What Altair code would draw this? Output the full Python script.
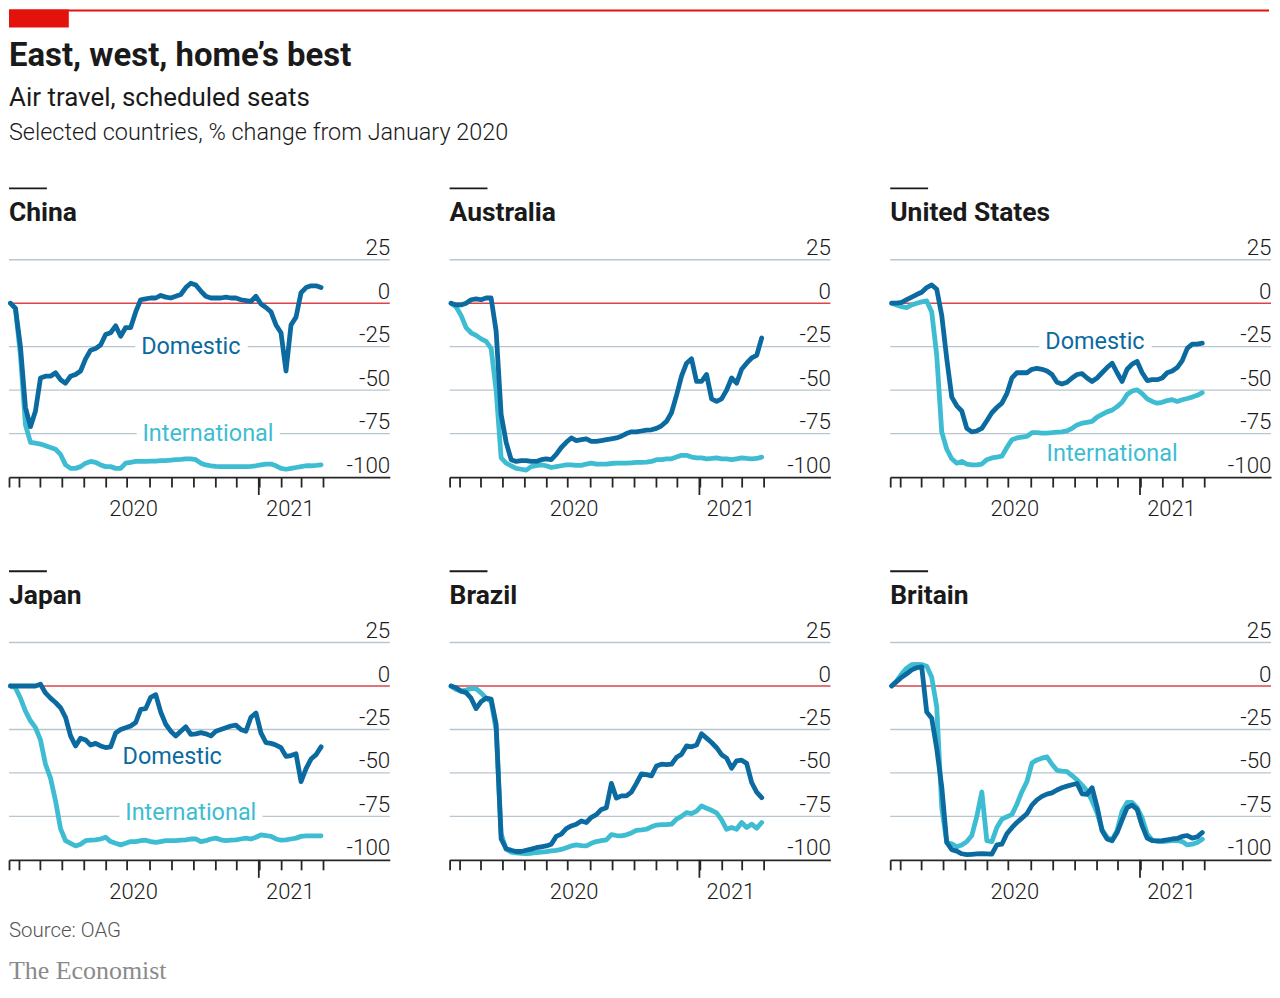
import altair as alt
import pandas as pd

# ---------------- data ----------------
WEEKS = pd.date_range("2020-01-20", periods=63, freq="7D").strftime("%Y-%m-%d").tolist()

china_dom = [0, -3, -25, -60, -71, -62, -43, -42, -42, -40, -44, -46, -42, -41,
             -39, -32, -27, -26, -24, -18, -17, -13, -19, -14, -14, -5, 2, 2.5, 3, 3,
             4.5, 3.5, 3, 4, 5, 9, 11.5, 10.5, 7, 4, 3, 3, 3, 3.5, 3, 3, 2, 1.5, 1, 4,
             -0.5, -2.5, -5, -12.5, -17, -39, -12.5, -8, 6, 9, 10, 10, 9]
china_int = [0, -3, -30, -70, -80, -80.5, -81, -82, -83, -84, -87, -93, -95, -95, -94,
             -92, -91, -91.5, -93, -94, -94, -95, -95, -92, -91.5,
             -91, -91, -91, -90.8, -90.8, -90.5, -90.5, -90.3, -90, -89.8,
             -89.5, -89.5, -90, -92, -93, -93.5, -93.8, -94, -94, -94, -94, -94, -94, -93.8, -93.5,
             -93, -92.5, -92.5, -93.5, -95, -95.5, -95, -94.5, -94, -93.5, -93.5, -93.3, -93]

aus_dom = [0, -1, -1, 0, 2, 2.5, 2, 3, 3,
           -16, -64, -80, -90, -91, -90.5, -90.5, -91, -91, -90, -89.5, -90,
           -87, -83, -80, -77.5, -79, -78.5, -78, -79.5, -79.5, -79, -78.5, -78, -77.5,
           -76.5, -75, -74, -74, -73.5, -73, -72.8, -72, -70.5, -68, -63,
           -53, -42, -34.5, -32, -45, -45, -41, -55, -56.5, -55, -50, -43, -46, -38, -34.5, -31.5, -30, -20]
aus_int = [0, -2, -7, -14, -17, -18.5, -20.5, -22, -26,
           -50, -89, -92, -93.5, -95, -95.5, -96, -94, -93.5, -93, -93.5, -94.5,
           -94, -93.5, -93, -93, -93.3, -93.3, -92.5, -92, -92.5, -92.5, -92.5, -92.2, -92,
           -92, -92, -91.8, -91.6, -91.5, -91.4, -91, -90, -90, -89.5, -89.5,
           -88.5, -87.5, -87.5, -88.5, -89, -89, -89.5, -89.3, -89, -89.5, -89.5, -90, -89.5, -89, -89.3, -89.5, -89.3, -88.5]

us_dom = [0, 0, 0.5, 2, 3.5, 5, 6.3, 9, 10.5, 8,
          -7, -32, -54, -59, -62, -72, -74, -73.5, -72, -67.6, -63, -60, -57.5,
          -52, -43, -40, -40, -40, -38, -37.5, -38, -39, -41, -45.5, -46.5, -45.5,
          -43, -41, -40.5, -43, -45, -43, -40, -37, -34.5, -40, -45, -38, -35, -33.5,
          -40, -44.5, -44, -44, -43, -40, -39, -37, -33, -26, -23.5, -23.5, -23]
us_int = [0, -1, -2, -2.5, -1, 0, 0.8, 1.3, -5, -30,
          -74, -84, -89.5, -92, -91, -92.5, -93, -93, -92.5, -90, -89, -88.5, -88,
          -83, -78.5, -77.5, -77, -76.6, -74.5, -74.5, -74.7, -74.7, -74.5, -74.2, -74, -73.4,
          -72, -70, -69, -68.5, -68, -65.5, -64, -62.5, -61.5, -59.5, -57, -52.5, -50.5, -49.8,
          -52, -55, -56.5, -57.5, -57, -56, -55.5, -56.5, -55.5, -54.8, -54, -53, -51.5]

japan_dom = [0, 0, 0, 0, 0, 0, 1, -4, -7, -9.5, -12.5, -18, -28.7, -34.5,
             -30, -31, -34, -33, -34.5, -35.4, -35, -27, -25, -24, -23, -21, -13.4, -13, -6.5, -5,
             -15, -22, -26, -28.7, -26, -23.5, -27.8, -27.5, -26.8, -27.5, -28.7, -26, -25, -24, -23, -22.5, -25, -26,
             -18, -15.5, -27, -32.6, -33, -34, -35.5, -40.5, -40, -39, -55, -47.5, -42, -39.5, -35]
japan_int = [0, -1, -7, -14.5, -20, -24, -31, -45, -53, -66, -82, -89, -90.5, -92, -91,
             -89, -88.7, -88.5, -88, -87, -89.5, -90.5, -91.4, -90.5, -89.5, -89.5, -89, -88.7, -89.5, -90,
             -89.5, -89, -89, -89, -88.7, -88.5, -88, -88, -89.5, -89, -88, -87.5, -88.5, -89, -88.7, -88.5,
             -88, -87.5, -88, -87, -85.6, -86, -86.5, -88, -88.7, -88.5, -88, -87.5, -86.5, -86.2, -86.2, -86.2, -86.2]

brazil_dom = [0, -1, -3, -3.8, -7, -13, -9, -7, -7.5, -22,
              -88, -93.5, -94.5, -95.2, -95.2, -94.5, -93.8, -93, -92.5, -92, -91, -86.5, -85.2,
              -82, -80.5, -79.5, -77.6, -78.5, -75.5, -74, -71, -70, -56, -64.5, -63.2, -63.2,
              -61, -56, -50.5, -51, -51.7, -46, -45, -45.2, -45, -41, -39.3, -34.5, -35, -34,
              -27.5, -30, -32.5, -35.5, -39.5, -41.5, -47.3, -43, -42.7, -44.5, -55.5, -61, -64.2]
brazil_int = [0, -2, -2.9, -2.3, -1.5, -1.5, -4, -7, -9, -25,
              -85, -94, -95.5, -96, -96.2, -96.4, -96.2, -95.8, -95.5, -95.2, -94.8, -94.5, -94,
              -93, -92, -91.4, -91.8, -92, -90.5, -89.5, -89, -88.5, -85.5, -86, -86.2, -85.6,
              -84.5, -83, -82.8, -82.4, -81, -80, -79.8, -79.7, -79.5, -76.6, -75, -72.8, -73.4, -72,
              -69, -70.3, -71.5, -73, -77, -82.4, -81.4, -82.4, -78.5, -81.4, -79.5, -81.8, -78.5]

britain_dom = [0, 2.5, 5, 7, 9.3, 10.5, 11, -15, -18.5, -36,
               -58, -90, -94.2, -95, -96.5, -97, -96.8, -96.6, -96.4, -96.5, -96.7, -91.4, -91,
               -85, -81.5, -78.5, -76, -73.5, -68.5, -65.5, -63.5, -62.2, -61.5, -59.8, -58.5, -57.6,
               -56.8, -56.1, -62, -62.3, -58.5, -69.5, -83.3, -88, -89, -84.3, -77, -70, -68.5, -71,
               -80.5, -87.5, -89, -89.1, -89, -88.5, -88, -87.7, -86.5, -86, -87.5, -86.8, -84.3]
britain_int = [0, 3, 7, 10.3, 12.3, 12.5, 12.3, 11.3, 5, -12,
               -70, -90, -90.8, -92.5, -91.5, -89.5, -86, -75, -61, -89, -89.5, -81.4, -76.6,
               -75.2, -74, -68, -60.8, -55, -44.3, -42.5, -41.5, -40.8, -45, -48.5, -49, -49.2,
               -51.5, -54, -57, -60.3, -66, -73, -82.5, -87, -88.5, -83, -72, -67, -67, -70,
               -76, -85, -88.7, -89.3, -89.5, -89.2, -89, -88.8, -89.5, -91.4, -91, -90, -88.1]

COUNTRIES = ["China", "Australia", "United States", "Japan", "Brazil", "Britain"]
DOMESTIC = [china_dom, aus_dom, us_dom, japan_dom, brazil_dom, britain_dom]
INTERNATIONAL = [china_int, aus_int, us_int, japan_int, brazil_int, britain_int]

# in-chart series labels
label_country = ["China", "China", "United States", "United States", "Japan", "Japan"]
label_series = ["Domestic", "International", "Domestic", "International", "Domestic", "International"]
label_date = ["2020-09-28", "2020-10-22", "2020-10-30", "2020-11-23", "2020-09-02", "2020-09-28"]
label_value = [-25, -75, -22.5, -87, -41, -73]

Y_TICKS = [25, 0, -25, -50, -75, -100]
GRID_VALUES = [25, -25, -50, -75]
TICK_MONTHS = [(2020, m) for m in range(2, 13)] + [(2021, m) for m in range(1, 5)]
YEAR_LABELS = ["2020", "2021"]
YEAR_LABEL_DATES = ["2020-07-10", "2021-02-14"]
LONG_TICK_DATE = ["2021-01-01"]

# ---------------- style ----------------
FONT = "Roboto"
DARK = "#0b6aa0"
LIGHT = "#3ebcd2"
RED = "#e3120b"
ZERO = "#db444b"
GRIDC = "#b7c6cf"
TXT = "#1a1a1a"
AXC = "#262626"
W, H = 382, 218
TOTAL_W = 1264

rows = []
for c, dom, intl in zip(COUNTRIES, DOMESTIC, INTERNATIONAL):
    for d, v in zip(WEEKS, dom):
        rows.append({"country": c, "series": "Domestic", "date": d, "value": v})
    for d, v in zip(WEEKS, intl):
        rows.append({"country": c, "series": "International", "date": d, "value": v})
df = pd.DataFrame(rows)
labels_df = pd.DataFrame({"country": label_country, "series": label_series,
                          "date": label_date, "value": label_value})

xscale = alt.Scale(domain=[alt.DateTime(year=2020, month=1, date=18, utc=True),
                           alt.DateTime(year=2021, month=7, date=3, utc=True)])
tick_values = [alt.DateTime(year=2020, month=1, date=18, utc=True)] + \
    [alt.DateTime(year=y, month=m, date=1, utc=True) for y, m in TICK_MONTHS]
xaxis = alt.Axis(values=tick_values, labels=False, tickSize=10, tickColor=AXC, tickWidth=1.8,
                 domainColor=AXC, domainWidth=1.8, grid=False)
yscale = alt.Scale(domain=[-100, 25], nice=False, zero=False)
yaxis = alt.Axis(orient="right", values=Y_TICKS, labelAlign="right", labelBaseline="alphabetic",
                 labelOffset=-5, labelPadding=0, ticks=False, tickSize=0, domain=False, grid=False,
                 labelFontSize=22.5, labelFont=FONT, labelColor=TXT, labelFontWeight=300,
                 labelFlush=False, labelOverlap=False,
                 labelExpr="datum.value < 0 ? '-' + abs(datum.value) : '' + datum.value")

X = alt.X("date:T", scale=xscale, axis=xaxis, title=None)
Y = alt.Y("value:Q", scale=yscale, axis=yaxis, title=None)

one = pd.DataFrame({"k": [0]})
series_color = alt.Color("series:N", scale=alt.Scale(domain=["Domestic", "International"],
                                                    range=[DARK, LIGHT]), legend=None)
no_frame = alt.ViewBackground(stroke="transparent", strokeWidth=0)


def panel(country, footer=False):
    d = df[df.country == country]
    lab = labels_df[labels_df.country == country]
    layers = [
        alt.Chart(pd.DataFrame({"value": GRID_VALUES})).mark_rule(color=GRIDC, strokeWidth=1.4).encode(y=Y),
        alt.Chart(pd.DataFrame({"value": [0]})).mark_rule(color=ZERO, strokeWidth=1.6).encode(y=Y),
    ]
    if len(lab):
        layers.append(alt.Chart(lab).mark_text(font=FONT, fontSize=23.5, align="center", baseline="middle",
                                               color="white", stroke="white", strokeWidth=16,
                                               strokeJoin="round").encode(x=X, y=Y, text="series:N"))
    layers += [
        alt.Chart(d[d.series == "International"]).mark_line(color=LIGHT, strokeWidth=4.8, strokeJoin="round",
                                                            strokeCap="round").encode(x=X, y=Y),
        alt.Chart(d[d.series == "Domestic"]).mark_line(color=DARK, strokeWidth=4.8, strokeJoin="round",
                                                       strokeCap="round").encode(x=X, y=Y),
    ]
    if len(lab):
        layers.append(alt.Chart(lab).mark_text(font=FONT, fontSize=23.5, align="center",
                                               baseline="middle").encode(x=X, y=Y, text="series:N",
                                                                         color=series_color))
    layers += [
        alt.Chart(pd.DataFrame({"date": LONG_TICK_DATE})).mark_rule(color=AXC, strokeWidth=1.8).encode(
            x=X, y=alt.value(H), y2=alt.value(H + 18)),
        alt.Chart(pd.DataFrame({"date": YEAR_LABEL_DATES, "label": YEAR_LABELS})).mark_text(
            font=FONT, fontSize=22, fontWeight=300, align="center", baseline="alphabetic", color=TXT).encode(
            x=X, y=alt.value(H + 39), text="label:N"),
        alt.Chart(one).mark_rule(color=TXT, strokeWidth=2).encode(
            x=alt.value(0), x2=alt.value(38), y=alt.value(-71.6)),
        alt.Chart(pd.DataFrame({"t": [country]})).mark_text(
            font=FONT, fontSize=26.5, fontWeight="bold", align="left", baseline="alphabetic", color=TXT).encode(
            x=alt.value(0), y=alt.value(-39), text="t:N"),
    ]
    if footer:
        layers += [
            alt.Chart(pd.DataFrame({"t": ["Source: OAG"]})).mark_text(
                font=FONT, fontSize=20.5, fontWeight=300, align="left", baseline="alphabetic",
                color="#555555").encode(x=alt.value(0), y=alt.value(H + 77), text="t:N"),
            alt.Chart(pd.DataFrame({"t": ["The Economist"]})).mark_text(
                font="Liberation Serif", fontSize=26, align="left", baseline="alphabetic",
                color="#8a8a8a").encode(x=alt.value(0), y=alt.value(H + 119.5), text="t:N"),
        ]
    return alt.layer(*layers).properties(width=W, height=H, view=no_frame)


header = alt.layer(
    alt.Chart(one).mark_rule(color=RED, strokeWidth=2).encode(
        x=alt.value(0), x2=alt.value(TOTAL_W), y=alt.value(1)),
    alt.Chart(one).mark_rect(color=RED).encode(
        x=alt.value(0), x2=alt.value(60), y=alt.value(0), y2=alt.value(18)),
    alt.Chart(pd.DataFrame({"t": ["East, west, home’s best"]})).mark_text(
        font=FONT, fontSize=33, fontWeight="bold", align="left", baseline="alphabetic", color=TXT).encode(
        x=alt.value(0), y=alt.value(57), text="t:N"),
    alt.Chart(pd.DataFrame({"t": ["Air travel, scheduled seats"]})).mark_text(
        font=FONT, fontSize=26, align="left", baseline="alphabetic", color=TXT).encode(
        x=alt.value(0), y=alt.value(97), text="t:N"),
    alt.Chart(pd.DataFrame({"t": ["Selected countries, % change from January 2020"]})).mark_text(
        font=FONT, fontSize=23.5, fontWeight=300, align="left", baseline="alphabetic", color=TXT).encode(
        x=alt.value(0), y=alt.value(131), text="t:N"),
).properties(width=TOTAL_W, height=130, view=no_frame)

row1 = alt.hconcat(panel("China"), panel("Australia"), panel("United States"), spacing=58)
row2 = alt.hconcat(panel("Japan", footer=True), panel("Brazil"), panel("Britain"), spacing=58)
grid_rows = alt.vconcat(row1, row2, spacing=50)

chart = alt.vconcat(header, grid_rows, spacing=42).properties(padding=0).configure_view(
    stroke="transparent", strokeWidth=0).configure(font=FONT)

chart.save("out.html", embed_options={"renderer": "svg", "actions": False})
